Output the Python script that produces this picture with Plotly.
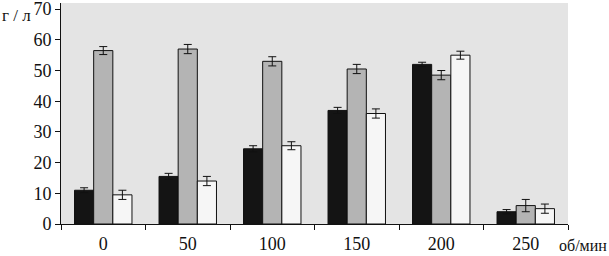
import plotly.graph_objects as go

categories = ["0", "50", "100", "150", "200", "250"]
black_vals = [11, 15.5, 24.5, 37, 52, 4]
black_err = [0.8, 1.0, 1.0, 1.0, 0.7, 0.7]
gray_vals = [56.5, 57, 53, 50.5, 48.5, 6]
gray_err = [1.3, 1.5, 1.5, 1.5, 1.5, 2.0]
white_vals = [9.5, 14, 25.5, 36, 55, 5]
white_err = [1.5, 1.5, 1.3, 1.5, 1.3, 1.5]
y_ticks = [0, 10, 20, 30, 40, 50, 60, 70]

series = [
    (black_vals, black_err, "#141414"),
    (gray_vals, gray_err, "#b4b4b4"),
    (white_vals, white_err, "#f6f6f6"),
]

FONT = "Liberation Serif, Times New Roman, serif"

fig = go.Figure()
for vals, err, col in series:
    fig.add_trace(go.Bar(
        x=categories, y=vals,
        marker=dict(color=col, line=dict(color="#111111", width=1)),
        error_y=dict(type="data", array=err, color="#111111", thickness=1, width=4),
        showlegend=False,
    ))

fig.update_layout(
    template="none",
    width=609, height=256,
    margin=dict(l=61, r=41, t=3, b=32),
    plot_bgcolor="#e4e4e4", paper_bgcolor="white",
    barmode="group", bargap=0.32, bargroupgap=0,
    font=dict(family=FONT, size=18, color="#111111"),
)
fig.update_yaxes(
    automargin=False, ticklabeloverflow="allow",
    range=[0, 72], tickvals=y_ticks,
    tickfont=dict(family=FONT, size=18),
    showgrid=False, zeroline=False, showline=True, linecolor="#111111", linewidth=1,
    ticks="outside", ticklen=5, tickcolor="#111111", tickwidth=1,
)
fig.update_xaxes(
    automargin=False,
    type="category", tickfont=dict(family=FONT, size=18), ticklabelstandoff=3,
    showgrid=False, zeroline=False, showline=True, linecolor="#111111", linewidth=1,
    ticks="outside", tickson="boundaries", ticklen=5, tickcolor="#111111", tickwidth=1,
)
fig.add_annotation(text="г / л", x=0, y=1, xref="paper", yref="paper", xshift=-61, yshift=-1,
                   xanchor="left", yanchor="top", showarrow=False, font=dict(family=FONT, size=17))
fig.add_annotation(text="об/мин", x=1, y=0, xref="paper", yref="paper", xshift=41, yshift=-11,
                   xanchor="right", yanchor="top", showarrow=False, font=dict(family=FONT, size=16))

fig.write_html("out.html", config={"displayModeBar": False},
               post_script="document.body.style.margin='0';")
